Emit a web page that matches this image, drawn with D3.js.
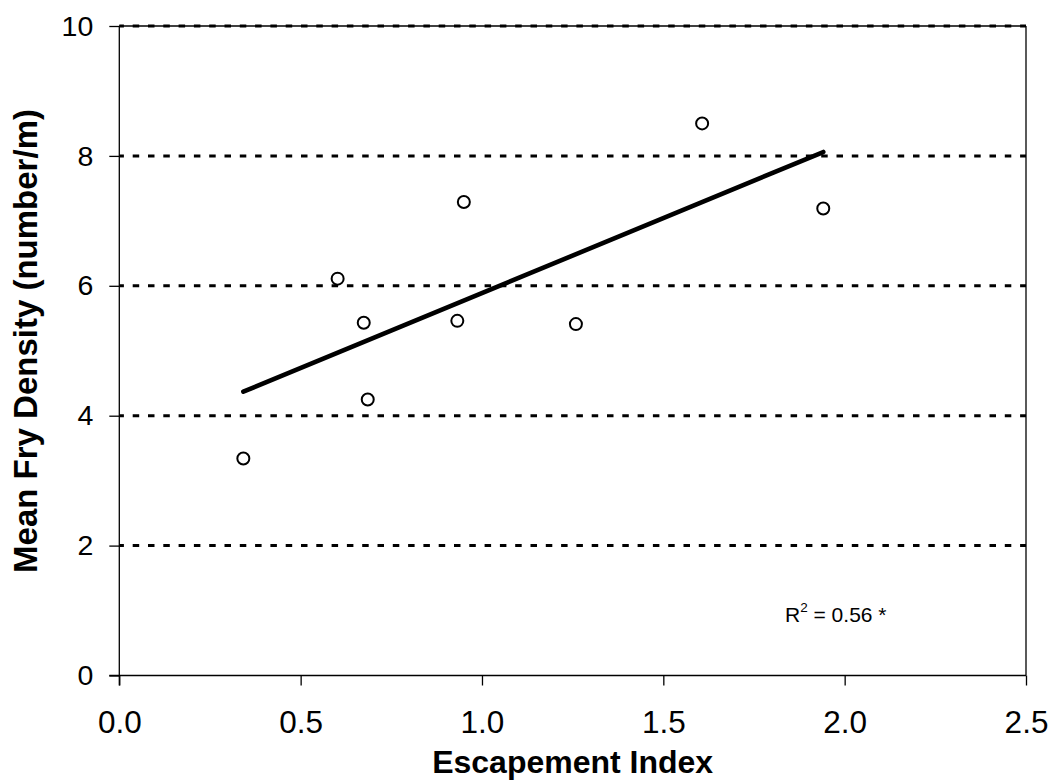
<!DOCTYPE html>
<html>
<head>
<meta charset="utf-8">
<script src="https://cdn.jsdelivr.net/npm/d3@7"></script>
<style>
  html, body { margin: 0; padding: 0; background: #fff; }
  svg { display: block; font-family: Arial, "Liberation Sans", sans-serif; }
</style>
</head>
<body>
<svg id="chart" width="1055" height="782"></svg>
<script>
// Escapement index vs. mean fry density, one point per year
const escapementIndex = [0.342, 0.602, 0.674, 0.685, 0.932, 0.950, 1.259, 1.607, 1.941];
const fryDensity      = [3.34, 6.11, 5.43, 4.25, 5.46, 7.29, 5.41, 8.50, 7.19];

// Least-squares trend line endpoints (x, fitted y)
const trendX = [0.342, 1.941];
const trendY = [4.37, 8.06];

const xTicks = [0, 0.5, 1.0, 1.5, 2.0, 2.5];
const yTicks = [0, 2, 4, 6, 8, 10];
const rSquaredLabel = "0.56 *";

const svg = d3.select("#chart");
const plot = { left: 119.3, right: 1026, top: 26, bottom: 675.5 };

const x = d3.scaleLinear().domain([0, 2.5]).range([plot.left, plot.right]);
const y = d3.scaleLinear().domain([0, 10]).range([plot.bottom, plot.top]);

// Dotted horizontal gridlines
svg.append("g")
  .selectAll("line")
  .data(yTicks.filter(d => d > 0))
  .join("line")
  .attr("x1", plot.left).attr("x2", plot.right)
  .attr("y1", d => y(d)).attr("y2", d => y(d))
  .attr("stroke", "#000")
  .attr("stroke-width", 3)
  .attr("stroke-dasharray", "6.5,8.8")
  .attr("stroke-dashoffset", 1.9);

// Plot frame: top and right edges
svg.append("line")
  .attr("x1", plot.left).attr("x2", plot.right)
  .attr("y1", plot.top).attr("y2", plot.top)
  .attr("stroke", "#000").attr("stroke-width", 1.3);
svg.append("line")
  .attr("x1", plot.right).attr("x2", plot.right)
  .attr("y1", plot.top).attr("y2", plot.bottom)
  .attr("stroke", "#000").attr("stroke-width", 1.3);

// Axes
const xAxis = d3.axisBottom(x)
  .tickValues(xTicks)
  .tickFormat(d3.format(".1f"))
  .tickSize(10)
  .tickPadding(25);
const yAxis = d3.axisLeft(y)
  .tickValues(yTicks)
  .tickFormat(d3.format("d"))
  .tickSize(10)
  .tickPadding(16);

const gx = svg.append("g")
  .attr("transform", `translate(0,${plot.bottom})`)
  .call(xAxis);
const gy = svg.append("g")
  .attr("transform", `translate(${plot.left},0)`)
  .call(yAxis);

[gx, gy].forEach(g => {
  g.select(".domain").attr("stroke", "#000").attr("stroke-width", 1.3);
  g.selectAll(".tick line").attr("stroke", "#000").attr("stroke-width", 1.3);
  g.selectAll(".tick text").attr("fill", "#000").attr("font-family", "Arial, 'Liberation Sans', sans-serif");
});
gx.selectAll(".tick text").attr("font-size", 31.5);
gy.selectAll(".tick text").attr("font-size", 28.5);
// Extend axis lines across the tick at the origin
gx.select(".domain").attr("d", `M${plot.left - 10},0H${plot.right}`);
gy.select(".domain").attr("d", `M0,${plot.top}V${plot.bottom + 10}`);

// Trend line
svg.append("path")
  .datum(trendX.map((d, i) => [d, trendY[i]]))
  .attr("d", d3.line().x(d => x(d[0])).y(d => y(d[1])))
  .attr("fill", "none")
  .attr("stroke", "#000")
  .attr("stroke-width", 4.6)
  .attr("stroke-linecap", "round");

// Observations
svg.append("g")
  .selectAll("circle")
  .data(escapementIndex.map((d, i) => [d, fryDensity[i]]))
  .join("circle")
  .attr("cx", d => x(d[0]))
  .attr("cy", d => y(d[1]))
  .attr("r", 6)
  .attr("fill", "none")
  .attr("stroke", "#000")
  .attr("stroke-width", 2);

// Coefficient of determination
const r2 = svg.append("text")
  .attr("x", 785).attr("y", 621.7)
  .attr("font-size", 21)
  .attr("fill", "#000");
r2.append("tspan").text("R");
r2.append("tspan").attr("font-size", 13.5).attr("dy", -9.5).text("2");
r2.append("tspan").attr("dy", 9.5).text(" = " + rSquaredLabel);

// Axis titles
svg.append("text")
  .attr("x", (plot.left + plot.right) / 2)
  .attr("y", 773)
  .attr("text-anchor", "middle")
  .attr("font-size", 32)
  .attr("font-weight", "bold")
  .text("Escapement Index");

svg.append("text")
  .attr("transform", "translate(37,341) rotate(-90)")
  .attr("text-anchor", "middle")
  .attr("font-size", 33)
  .attr("font-weight", "bold")
  .text("Mean Fry Density (number/m)");
</script>
</body>
</html>
